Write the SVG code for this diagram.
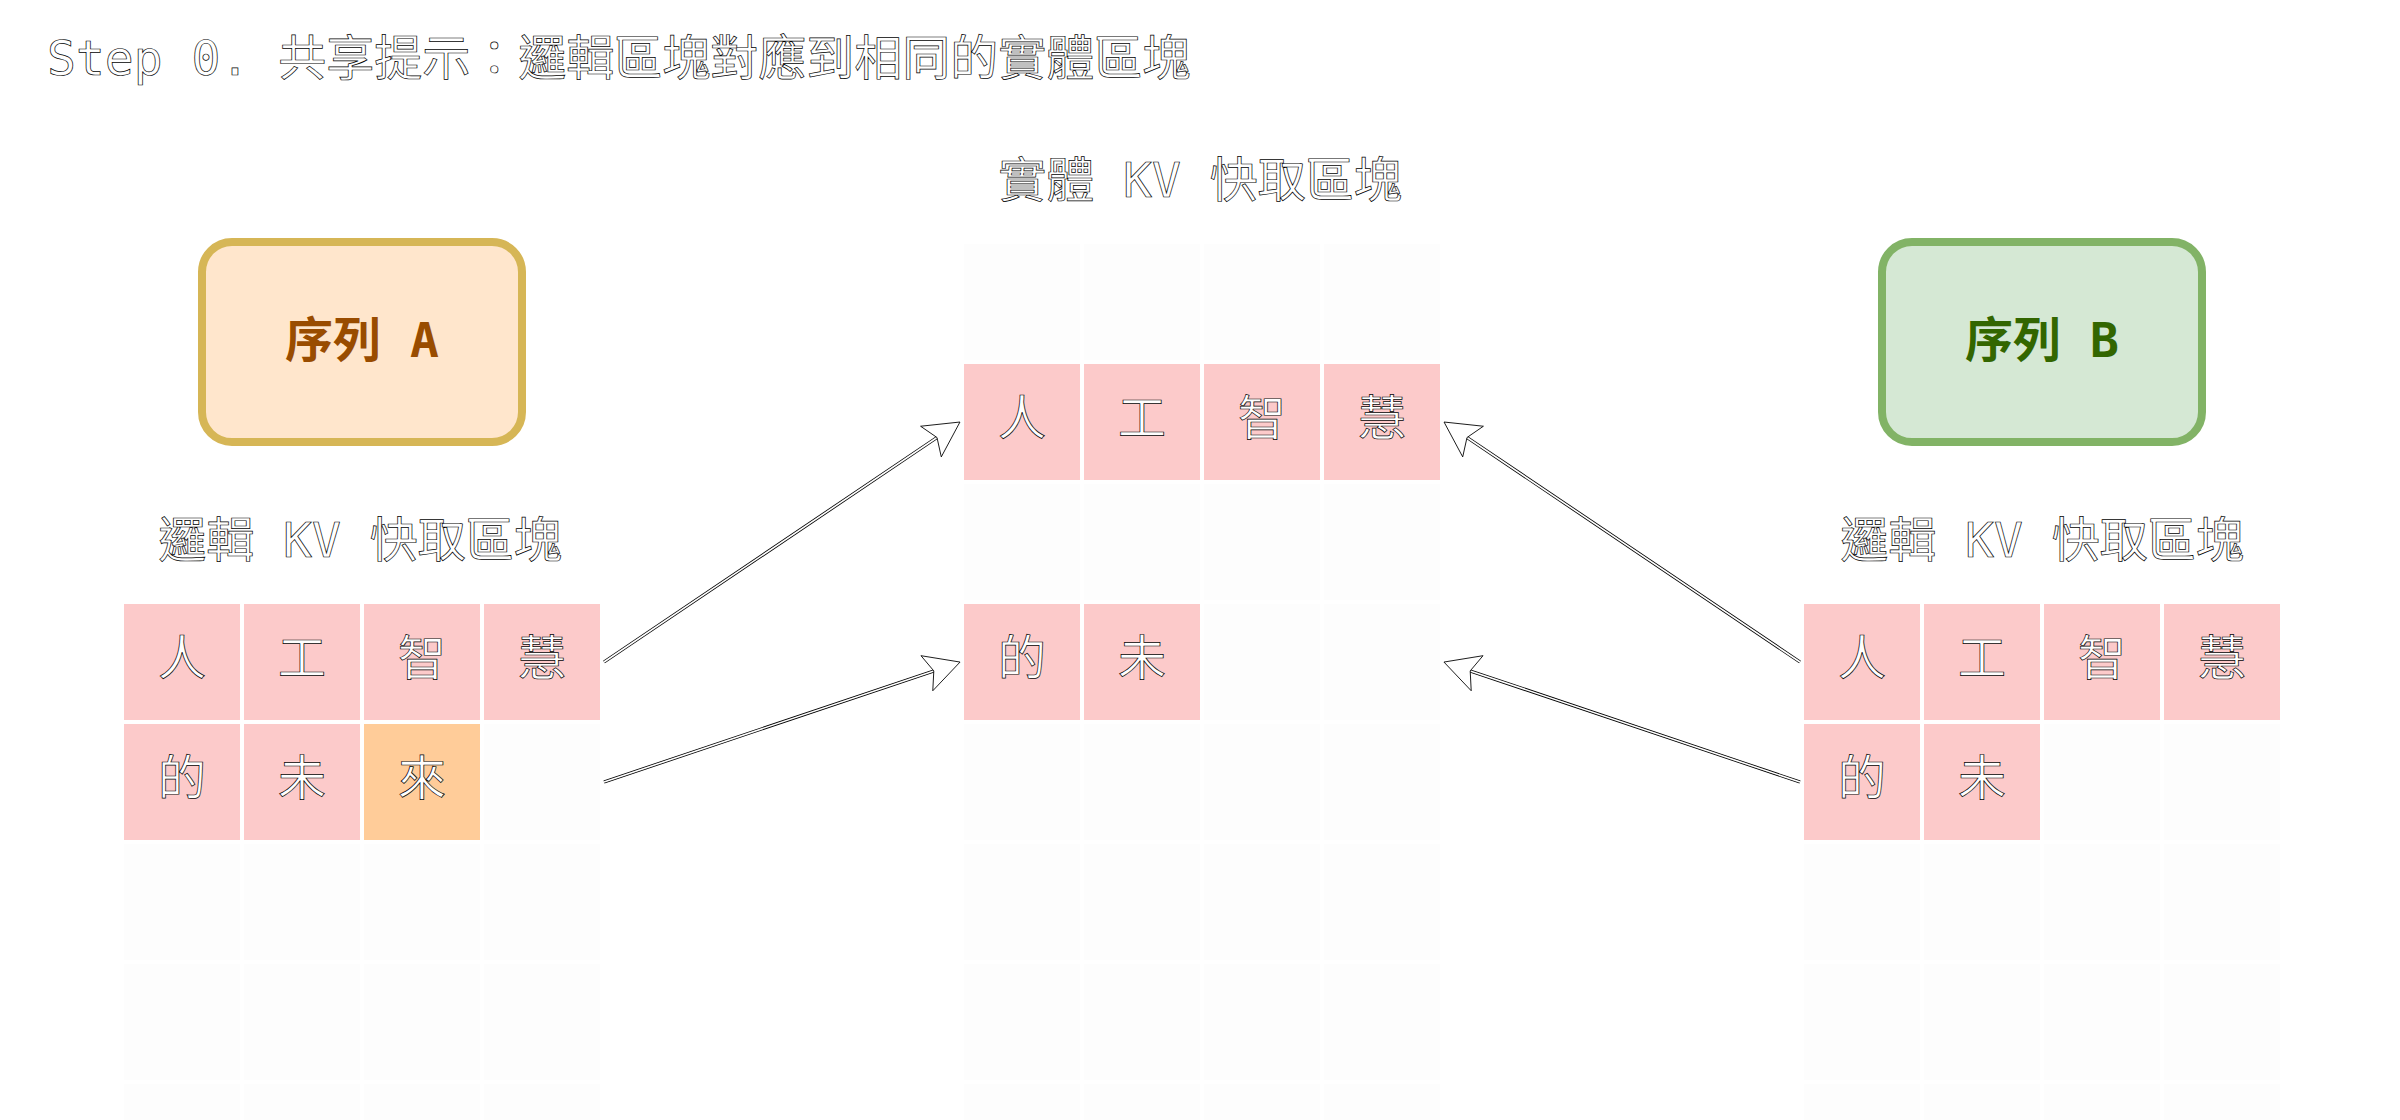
<svg xmlns="http://www.w3.org/2000/svg" width="2400" height="1120" viewBox="0 0 2400 1120">
<style>
.bg{fill:#ffffff}
.cell{fill:#fccaca}
.cello{fill:#ffcc99}
.empty{fill:#fdfdfd}
.ct{font-family:'Noto Sans CJK TC','Noto Sans CJK SC',sans-serif;font-size:48px;fill:#ffffff;stroke:#000000;stroke-width:0.7;text-anchor:middle}
.lbl{font-family:'DejaVu Sans Mono','Noto Sans CJK TC',monospace;font-size:48px;fill:#ffffff;stroke:#000000;stroke-width:0.7}
.mid{text-anchor:middle}
.seq{font-family:'DejaVu Sans Mono','Noto Sans CJK TC',monospace;font-size:48px;font-weight:bold;text-anchor:middle}
.lineo{fill:none;stroke:#000000;stroke-width:3.2}
.linei{fill:none;stroke:#ffffff;stroke-width:1.6}
</style>
<defs>
<marker id="arr" markerUnits="userSpaceOnUse" markerWidth="40" markerHeight="40" refX="7.3" refY="18.5" orient="auto" overflow="visible">
<path d="M0,0 L35,18.5 L0,37 L7.3,18.5 Z" fill="#ffffff" stroke="#000000" stroke-width="0.8"/>
</marker>
</defs>
<rect class="bg" x="0" y="0" width="2400" height="1120"/>

<g id="title"><text class="lbl" x="47" y="75">Step 0. 共享提示：邏輯區塊對應到相同的實體區塊</text></g>

<g id="physical-label"><text class="lbl mid" x="1200" y="197">實體 KV 快取區塊</text></g>

<g id="seq-a">
<rect x="202" y="242" width="320" height="200" rx="30" ry="30" fill="#ffe6cc" stroke="#d6b656" stroke-width="8"/>
<text class="seq" x="362" y="357" fill="#994c00">序列 A</text>
</g>
<g id="seq-b">
<rect x="1882" y="242" width="320" height="200" rx="30" ry="30" fill="#d5e8d4" stroke="#82b366" stroke-width="8"/>
<text class="seq" x="2042" y="357" fill="#336600">序列 B</text>
</g>

<g id="logical-label-a"><text class="lbl mid" x="360" y="557">邏輯 KV 快取區塊</text></g>
<g id="logical-label-b"><text class="lbl mid" x="2042" y="557">邏輯 KV 快取區塊</text></g>

<g id="grid-a">
<rect class="empty" x="484" y="724" width="116" height="116"/>
<rect class="empty" x="124" y="844" width="116" height="116"/><rect class="empty" x="244" y="844" width="116" height="116"/><rect class="empty" x="364" y="844" width="116" height="116"/><rect class="empty" x="484" y="844" width="116" height="116"/>
<rect class="empty" x="124" y="964" width="116" height="116"/><rect class="empty" x="244" y="964" width="116" height="116"/><rect class="empty" x="364" y="964" width="116" height="116"/><rect class="empty" x="484" y="964" width="116" height="116"/>
<rect class="empty" x="124" y="1084" width="116" height="116"/><rect class="empty" x="244" y="1084" width="116" height="116"/><rect class="empty" x="364" y="1084" width="116" height="116"/><rect class="empty" x="484" y="1084" width="116" height="116"/>
<g id="a-0"><rect class="cell" x="124" y="604" width="116" height="116"/><text class="ct" x="182" y="675">人</text></g>
<g id="a-1"><rect class="cell" x="244" y="604" width="116" height="116"/><text class="ct" x="302" y="675">工</text></g>
<g id="a-2"><rect class="cell" x="364" y="604" width="116" height="116"/><text class="ct" x="422" y="675">智</text></g>
<g id="a-3"><rect class="cell" x="484" y="604" width="116" height="116"/><text class="ct" x="542" y="675">慧</text></g>
<g id="a-4"><rect class="cell" x="124" y="724" width="116" height="116"/><text class="ct" x="182" y="795">的</text></g>
<g id="a-5"><rect class="cell" x="244" y="724" width="116" height="116"/><text class="ct" x="302" y="795">未</text></g>
<g id="a-6"><rect class="cello" x="364" y="724" width="116" height="116"/><text class="ct" x="422" y="795">來</text></g>
</g>

<g id="grid-physical">
<rect class="empty" x="964" y="244" width="116" height="116"/><rect class="empty" x="1084" y="244" width="116" height="116"/><rect class="empty" x="1204" y="244" width="116" height="116"/><rect class="empty" x="1324" y="244" width="116" height="116"/>
<rect class="empty" x="964" y="484" width="116" height="116"/><rect class="empty" x="1084" y="484" width="116" height="116"/><rect class="empty" x="1204" y="484" width="116" height="116"/><rect class="empty" x="1324" y="484" width="116" height="116"/>
<rect class="empty" x="1204" y="604" width="116" height="116"/><rect class="empty" x="1324" y="604" width="116" height="116"/>
<rect class="empty" x="964" y="724" width="116" height="116"/><rect class="empty" x="1084" y="724" width="116" height="116"/><rect class="empty" x="1204" y="724" width="116" height="116"/><rect class="empty" x="1324" y="724" width="116" height="116"/>
<rect class="empty" x="964" y="844" width="116" height="116"/><rect class="empty" x="1084" y="844" width="116" height="116"/><rect class="empty" x="1204" y="844" width="116" height="116"/><rect class="empty" x="1324" y="844" width="116" height="116"/>
<rect class="empty" x="964" y="964" width="116" height="116"/><rect class="empty" x="1084" y="964" width="116" height="116"/><rect class="empty" x="1204" y="964" width="116" height="116"/><rect class="empty" x="1324" y="964" width="116" height="116"/>
<rect class="empty" x="964" y="1084" width="116" height="116"/><rect class="empty" x="1084" y="1084" width="116" height="116"/><rect class="empty" x="1204" y="1084" width="116" height="116"/><rect class="empty" x="1324" y="1084" width="116" height="116"/>
<g id="p-0"><rect class="cell" x="964" y="364" width="116" height="116"/><text class="ct" x="1022" y="435">人</text></g>
<g id="p-1"><rect class="cell" x="1084" y="364" width="116" height="116"/><text class="ct" x="1142" y="435">工</text></g>
<g id="p-2"><rect class="cell" x="1204" y="364" width="116" height="116"/><text class="ct" x="1262" y="435">智</text></g>
<g id="p-3"><rect class="cell" x="1324" y="364" width="116" height="116"/><text class="ct" x="1382" y="435">慧</text></g>
<g id="p-4"><rect class="cell" x="964" y="604" width="116" height="116"/><text class="ct" x="1022" y="675">的</text></g>
<g id="p-5"><rect class="cell" x="1084" y="604" width="116" height="116"/><text class="ct" x="1142" y="675">未</text></g>
</g>

<g id="grid-b">
<rect class="empty" x="2044" y="724" width="116" height="116"/><rect class="empty" x="2164" y="724" width="116" height="116"/>
<rect class="empty" x="1804" y="844" width="116" height="116"/><rect class="empty" x="1924" y="844" width="116" height="116"/><rect class="empty" x="2044" y="844" width="116" height="116"/><rect class="empty" x="2164" y="844" width="116" height="116"/>
<rect class="empty" x="1804" y="964" width="116" height="116"/><rect class="empty" x="1924" y="964" width="116" height="116"/><rect class="empty" x="2044" y="964" width="116" height="116"/><rect class="empty" x="2164" y="964" width="116" height="116"/>
<rect class="empty" x="1804" y="1084" width="116" height="116"/><rect class="empty" x="1924" y="1084" width="116" height="116"/><rect class="empty" x="2044" y="1084" width="116" height="116"/><rect class="empty" x="2164" y="1084" width="116" height="116"/>
<g id="b-0"><rect class="cell" x="1804" y="604" width="116" height="116"/><text class="ct" x="1862" y="675">人</text></g>
<g id="b-1"><rect class="cell" x="1924" y="604" width="116" height="116"/><text class="ct" x="1982" y="675">工</text></g>
<g id="b-2"><rect class="cell" x="2044" y="604" width="116" height="116"/><text class="ct" x="2102" y="675">智</text></g>
<g id="b-3"><rect class="cell" x="2164" y="604" width="116" height="116"/><text class="ct" x="2222" y="675">慧</text></g>
<g id="b-4"><rect class="cell" x="1804" y="724" width="116" height="116"/><text class="ct" x="1862" y="795">的</text></g>
<g id="b-5"><rect class="cell" x="1924" y="724" width="116" height="116"/><text class="ct" x="1982" y="795">未</text></g>
</g>

<g id="connectors">
<line class="lineo" x1="604" y1="662" x2="937" y2="437.5"/>
<line class="linei" x1="604" y1="662" x2="937" y2="437.5" marker-end="url(#arr)"/>
<line class="lineo" x1="604" y1="782" x2="933.8" y2="670.9"/>
<line class="linei" x1="604" y1="782" x2="933.8" y2="670.9" marker-end="url(#arr)"/>
<line class="lineo" x1="1800" y1="662" x2="1467" y2="437.5"/>
<line class="linei" x1="1800" y1="662" x2="1467" y2="437.5" marker-end="url(#arr)"/>
<line class="lineo" x1="1800" y1="782" x2="1470.2" y2="670.9"/>
<line class="linei" x1="1800" y1="782" x2="1470.2" y2="670.9" marker-end="url(#arr)"/>
</g>
</svg>
